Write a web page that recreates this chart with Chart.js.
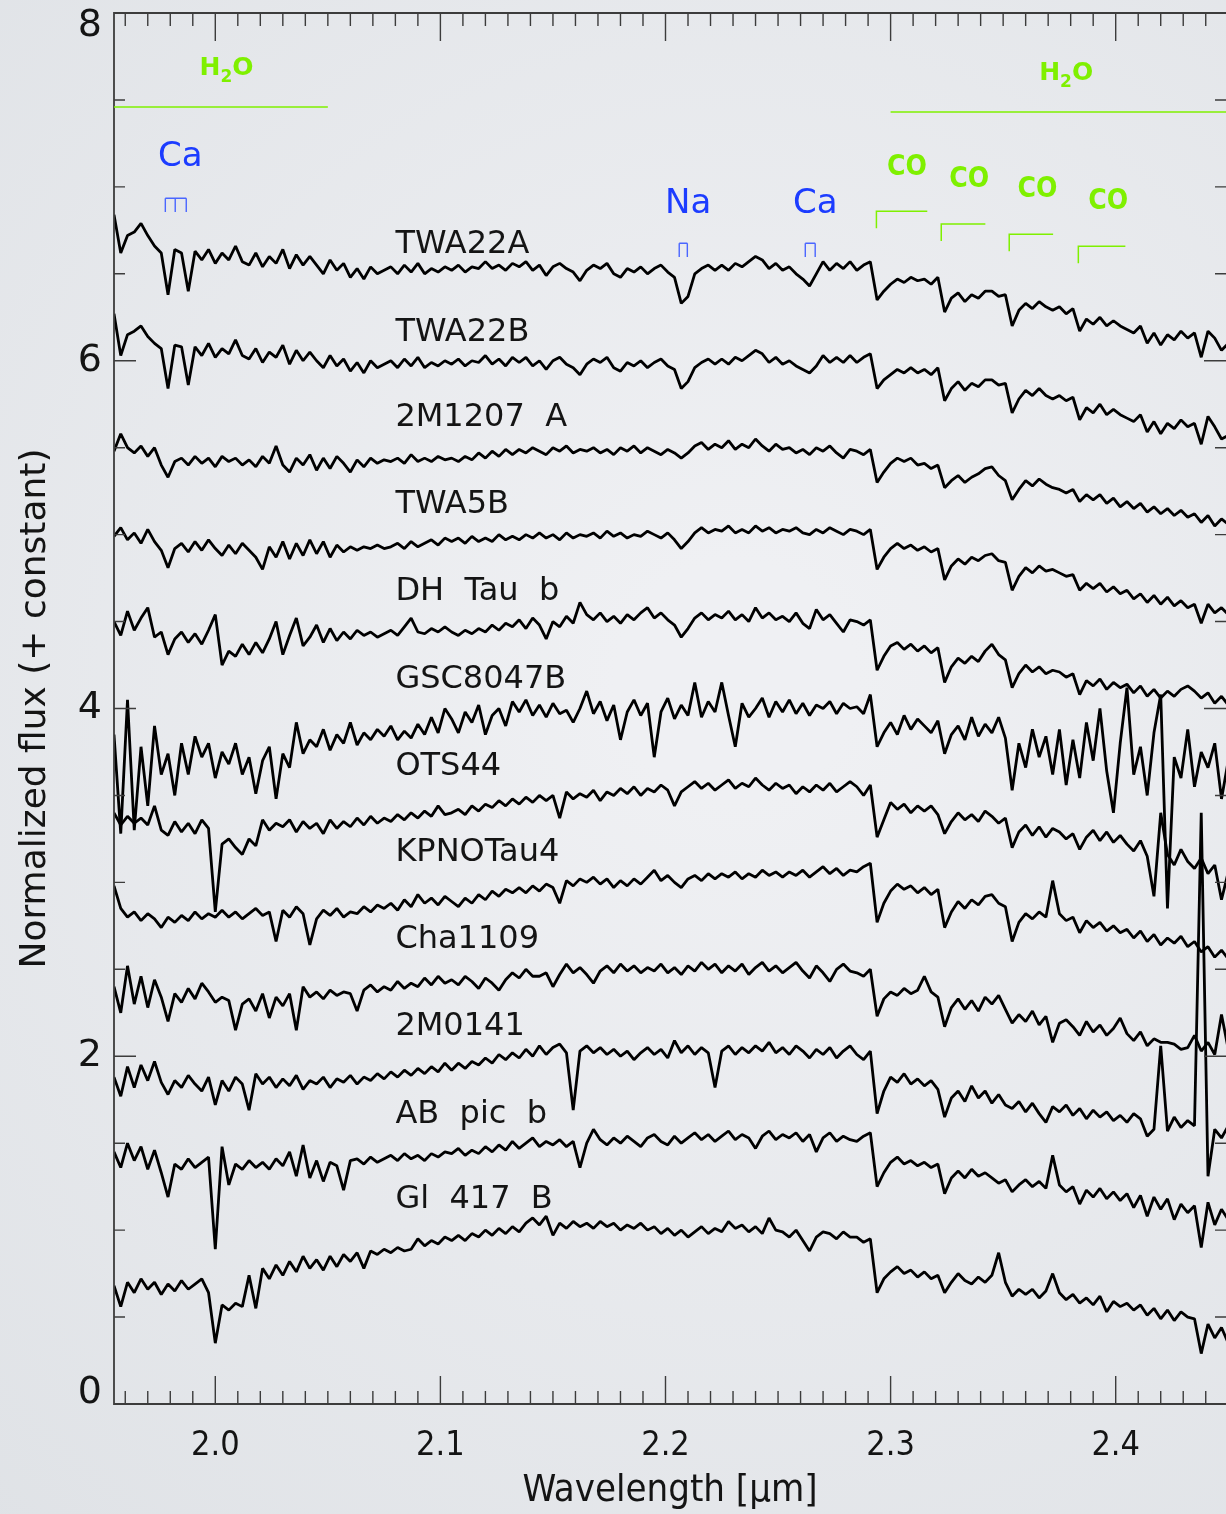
<!DOCTYPE html>
<html lang="en">
<head>
  <meta charset="UTF-8" />
  <title>K-band spectra of young low-mass objects</title>
  <script src="https://cdn.jsdelivr.net/npm/chart.js@4.4.0/dist/chart.umd.min.js"></script>
  <style>
    html, body {
      margin: 0;
      padding: 0;
      background: #e6e8eb;
    }

    #wrap {
      width: 1226px;
      height: 1514px;
    }
  </style>
</head>
<body>
  <div id="wrap"><canvas id="spectra" width="1226" height="1514"></canvas></div>

  <script>
    // wavelength grid of the spectra (micron)
    const waveStart = 1.955;
    const waveStep = 0.003;
    const nPoints = 166;
    const wave = [];
    for (let i = 0; i < nPoints; i++) wave.push(+(waveStart + i * waveStep).toFixed(3));

    // normalized flux + constant
    const twa22a = [
      6.84,6.62,6.72,6.74,6.79,6.72,6.66,6.62,6.38,6.64,
      6.62,6.40,6.63,6.58,6.64,6.56,6.62,6.58,6.66,6.57,
      6.55,6.62,6.54,6.60,6.56,6.64,6.53,6.61,6.55,6.60,
      6.55,6.50,6.58,6.52,6.56,6.48,6.53,6.47,6.54,6.50,
      6.52,6.54,6.50,6.55,6.51,6.56,6.50,6.53,6.51,6.54,
      6.52,6.55,6.51,6.54,6.53,6.57,6.53,6.55,6.52,6.56,
      6.54,6.57,6.52,6.55,6.49,6.54,6.56,6.53,6.51,6.46,
      6.52,6.55,6.53,6.56,6.50,6.48,6.53,6.51,6.54,6.50,
      6.53,6.55,6.51,6.48,6.33,6.37,6.50,6.53,6.55,6.52,
      6.55,6.52,6.56,6.54,6.57,6.60,6.58,6.53,6.56,6.52,
      6.54,6.50,6.47,6.43,6.50,6.57,6.52,6.56,6.53,6.57,
      6.52,6.55,6.57,6.35,6.40,6.44,6.47,6.45,6.48,6.46,
      6.47,6.44,6.48,6.28,6.36,6.39,6.34,6.38,6.36,6.40,
      6.40,6.37,6.38,6.20,6.29,6.33,6.30,6.34,6.31,6.29,
      6.31,6.27,6.30,6.17,6.24,6.21,6.25,6.20,6.23,6.20,
      6.18,6.16,6.20,6.10,6.16,6.09,6.15,6.12,6.17,6.13,
      6.16,6.02,6.17,6.13,6.06,6.10
    ];
    const twa22b = [
      6.27,6.03,6.15,6.17,6.20,6.14,6.10,6.07,5.84,6.09,
      6.08,5.86,6.08,6.03,6.10,6.02,6.07,6.04,6.12,6.03,
      6.01,6.07,5.99,6.05,6.02,6.09,5.98,6.06,6.00,6.05,
      6.00,5.96,6.03,5.97,6.01,5.94,5.99,5.93,6.00,5.96,
      5.98,6.00,5.96,6.01,5.97,6.02,5.96,5.99,5.97,6.00,
      5.98,6.01,5.97,6.00,5.99,6.03,5.98,6.01,5.97,6.02,
      5.99,6.02,5.97,6.00,5.95,6.00,6.02,5.98,5.96,5.92,
      5.98,6.01,5.99,6.02,5.96,5.94,5.99,5.97,6.00,5.96,
      5.99,6.01,5.97,5.95,5.84,5.88,5.96,5.99,6.01,5.98,
      6.01,5.98,6.02,6.00,6.03,6.06,6.04,5.99,6.02,5.98,
      6.00,5.97,5.95,5.93,5.97,6.03,5.99,6.02,5.99,6.03,
      5.99,6.02,6.04,5.84,5.89,5.92,5.95,5.93,5.96,5.93,
      5.95,5.92,5.96,5.77,5.84,5.88,5.83,5.87,5.85,5.89,
      5.89,5.86,5.87,5.70,5.78,5.83,5.80,5.84,5.80,5.78,
      5.80,5.77,5.79,5.66,5.73,5.70,5.75,5.69,5.72,5.69,
      5.67,5.65,5.69,5.59,5.65,5.58,5.64,5.61,5.66,5.62,
      5.64,5.52,5.68,5.62,5.55,5.57
    ];
    const m1207a = [
      5.48,5.58,5.50,5.47,5.51,5.45,5.50,5.40,5.33,5.42,
      5.44,5.40,5.45,5.41,5.44,5.39,5.45,5.42,5.44,5.40,
      5.43,5.39,5.45,5.41,5.51,5.40,5.36,5.44,5.40,5.46,
      5.37,5.44,5.38,5.45,5.41,5.36,5.43,5.39,5.44,5.41,
      5.43,5.42,5.44,5.41,5.46,5.42,5.44,5.42,5.45,5.43,
      5.44,5.42,5.45,5.43,5.47,5.44,5.48,5.45,5.49,5.46,
      5.49,5.47,5.50,5.48,5.46,5.50,5.48,5.51,5.47,5.49,
      5.48,5.50,5.47,5.49,5.46,5.50,5.48,5.51,5.47,5.50,
      5.48,5.46,5.49,5.47,5.44,5.47,5.51,5.53,5.49,5.52,
      5.50,5.54,5.49,5.52,5.50,5.55,5.51,5.48,5.52,5.49,
      5.50,5.47,5.49,5.46,5.50,5.48,5.51,5.47,5.44,5.49,
      5.48,5.46,5.49,5.30,5.36,5.41,5.44,5.42,5.44,5.40,
      5.41,5.38,5.40,5.27,5.31,5.34,5.30,5.33,5.35,5.38,
      5.39,5.34,5.31,5.20,5.26,5.31,5.28,5.32,5.29,5.27,
      5.26,5.24,5.26,5.19,5.23,5.20,5.23,5.18,5.21,5.16,
      5.19,5.15,5.18,5.13,5.16,5.12,5.15,5.11,5.14,5.10,
      5.12,5.07,5.11,5.05,5.09,5.06
    ];
    const twa5b = [
      4.99,5.04,4.97,5.01,4.95,5.03,4.96,4.91,4.81,4.92,
      4.95,4.90,4.96,4.91,4.97,4.92,4.88,4.94,4.89,4.95,
      4.91,4.87,4.80,4.93,4.87,4.96,4.86,4.95,4.88,4.97,
      4.89,4.96,4.87,4.94,4.90,4.93,4.91,4.93,4.92,4.94,
      4.92,4.93,4.95,4.92,4.96,4.93,4.95,4.97,4.94,4.98,
      4.96,4.98,4.95,4.99,4.96,4.98,4.96,5.00,4.97,4.99,
      4.97,5.00,4.98,5.01,4.98,5.00,4.97,5.01,4.98,5.00,
      4.99,5.01,4.98,5.02,4.99,5.01,4.98,5.00,4.99,5.02,
      5.00,4.98,5.01,4.97,4.92,4.96,5.01,5.04,5.01,5.03,
      5.02,5.05,5.01,5.03,5.01,5.05,5.02,5.04,5.01,5.03,
      5.02,5.04,5.01,5.00,5.03,5.01,5.04,5.02,5.00,5.03,
      5.02,5.00,5.03,4.80,4.87,4.92,4.95,4.92,4.94,4.91,
      4.93,4.90,4.92,4.74,4.82,4.86,4.83,4.87,4.85,4.88,
      4.89,4.85,4.84,4.68,4.76,4.81,4.78,4.82,4.79,4.80,
      4.78,4.76,4.77,4.68,4.72,4.69,4.72,4.67,4.70,4.66,
      4.68,4.63,4.66,4.61,4.65,4.60,4.64,4.59,4.62,4.58,
      4.60,4.49,4.60,4.55,4.58,4.54
    ];
    const dhTauB = [
      4.50,4.42,4.56,4.45,4.52,4.58,4.41,4.44,4.31,4.40,
      4.44,4.38,4.43,4.37,4.45,4.54,4.25,4.33,4.30,4.37,
      4.31,4.38,4.32,4.40,4.50,4.31,4.42,4.52,4.36,4.41,
      4.48,4.38,4.46,4.39,4.44,4.40,4.45,4.42,4.44,4.41,
      4.43,4.45,4.42,4.47,4.52,4.44,4.43,4.46,4.44,4.47,
      4.44,4.42,4.45,4.43,4.46,4.44,4.48,4.45,4.49,4.47,
      4.51,4.46,4.52,4.48,4.40,4.50,4.47,4.53,4.49,4.61,
      4.54,4.51,4.55,4.50,4.53,4.49,4.54,4.51,4.55,4.58,
      4.52,4.55,4.51,4.48,4.41,4.46,4.52,4.55,4.51,4.54,
      4.52,4.56,4.51,4.54,4.50,4.58,4.52,4.55,4.51,4.53,
      4.50,4.55,4.49,4.46,4.57,4.51,4.54,4.49,4.44,4.51,
      4.50,4.48,4.51,4.22,4.30,4.36,4.38,4.34,4.37,4.33,
      4.36,4.32,4.35,4.15,4.24,4.29,4.26,4.30,4.27,4.33,
      4.37,4.31,4.28,4.12,4.20,4.25,4.21,4.24,4.20,4.22,
      4.21,4.18,4.20,4.08,4.16,4.13,4.17,4.11,4.15,4.12,
      4.14,4.09,4.13,4.07,4.11,4.06,4.10,4.07,4.11,4.13,
      4.10,4.06,4.09,4.03,4.07,4.02
    ];
    const gsc8047b = [
      3.85,3.28,4.05,3.30,3.78,3.44,3.90,3.62,3.74,3.50,
      3.80,3.62,3.84,3.72,3.80,3.60,3.75,3.68,3.80,3.62,
      3.72,3.51,3.70,3.78,3.48,3.74,3.66,3.92,3.74,3.82,
      3.78,3.88,3.76,3.85,3.80,3.92,3.79,3.86,3.82,3.88,
      3.84,3.90,3.82,3.87,3.83,3.91,3.85,3.95,3.86,4.00,
      3.94,3.86,3.98,3.92,4.02,3.85,3.96,4.00,3.90,4.04,
      3.98,4.05,3.96,4.02,3.95,4.03,3.97,3.99,3.92,4.00,
      4.10,3.97,4.04,3.93,4.02,3.82,3.98,4.05,3.96,4.03,
      3.72,3.98,4.06,3.94,4.02,3.96,4.15,3.95,4.04,3.98,
      4.15,3.96,3.78,4.03,3.95,4.00,4.06,3.95,4.04,3.98,
      4.05,3.97,4.03,3.96,4.02,4.00,4.04,3.97,4.03,4.00,
      4.01,3.97,4.08,3.78,3.86,3.92,3.85,3.96,3.88,3.94,
      3.90,3.86,3.93,3.74,3.85,3.90,3.82,3.95,3.84,3.91,
      3.86,3.95,3.83,3.53,3.80,3.66,3.88,3.72,3.84,3.62,
      3.88,3.56,3.82,3.60,3.92,3.70,4.00,3.64,3.40,3.80,
      4.12,3.62,3.78,3.50,3.86,4.08,2.85,3.72,3.60,3.88,
      3.55,3.75,3.66,3.80,3.48,3.70
    ];
    const ots44 = [
      3.40,3.33,3.38,3.34,3.37,3.33,3.44,3.30,3.27,3.35,
      3.29,3.34,3.28,3.36,3.31,2.83,3.22,3.25,3.20,3.16,
      3.25,3.21,3.36,3.30,3.34,3.32,3.36,3.29,3.35,3.31,
      3.34,3.28,3.36,3.31,3.35,3.32,3.37,3.33,3.38,3.34,
      3.37,3.35,3.39,3.36,3.40,3.37,3.41,3.38,3.44,3.39,
      3.40,3.42,3.39,3.44,3.41,3.45,3.43,3.47,3.44,3.48,
      3.45,3.49,3.46,3.50,3.47,3.50,3.37,3.52,3.48,3.51,
      3.49,3.53,3.47,3.52,3.50,3.54,3.51,3.55,3.50,3.54,
      3.52,3.56,3.53,3.44,3.52,3.55,3.58,3.54,3.57,3.53,
      3.56,3.59,3.54,3.57,3.55,3.60,3.56,3.53,3.57,3.54,
      3.56,3.51,3.55,3.52,3.56,3.53,3.57,3.52,3.55,3.58,
      3.55,3.50,3.56,3.26,3.36,3.46,3.42,3.45,3.40,3.44,
      3.41,3.44,3.39,3.28,3.35,3.40,3.36,3.39,3.35,3.41,
      3.38,3.34,3.37,3.20,3.29,3.33,3.27,3.32,3.26,3.31,
      3.29,3.25,3.28,3.19,3.26,3.30,3.24,3.29,3.23,3.27,
      3.22,3.18,3.24,3.15,2.92,3.40,3.16,3.10,3.19,3.12,
      3.08,3.14,3.05,3.10,2.90,3.06
    ];
    const kpnoTau4 = [
      2.98,2.85,2.80,2.83,2.78,2.82,2.79,2.74,2.80,2.77,
      2.81,2.78,2.83,2.79,2.82,2.80,2.84,2.80,2.83,2.79,
      2.82,2.85,2.81,2.83,2.66,2.84,2.80,2.86,2.82,2.64,
      2.79,2.84,2.81,2.85,2.80,2.83,2.82,2.86,2.83,2.87,
      2.85,2.88,2.84,2.90,2.86,2.93,2.88,2.91,2.87,2.92,
      2.89,2.86,2.91,2.88,2.93,2.90,2.95,2.92,2.96,2.94,
      2.97,2.94,2.98,2.95,2.99,2.97,2.88,3.01,2.98,3.02,
      3.00,3.03,2.99,3.02,2.97,3.01,2.98,3.02,2.99,3.03,
      3.07,3.01,3.04,3.00,2.97,3.02,3.04,3.01,3.05,3.02,
      3.05,3.03,3.06,3.02,3.05,3.03,3.07,3.04,3.06,3.03,
      3.06,3.04,3.07,3.03,3.06,3.09,3.05,3.08,3.04,3.07,
      3.06,3.09,3.11,2.77,2.88,2.95,2.99,2.96,2.98,2.94,
      2.97,2.93,2.96,2.74,2.83,2.89,2.85,2.90,2.87,2.92,
      2.93,2.88,2.86,2.66,2.77,2.82,2.79,2.83,2.80,3.01,
      2.82,2.78,2.80,2.71,2.78,2.74,2.77,2.72,2.75,2.71,
      2.73,2.68,2.72,2.66,2.70,2.64,2.68,2.65,2.69,2.63,
      2.66,2.60,2.63,2.57,2.61,2.56
    ];
    const cha1109 = [
      2.40,2.25,2.52,2.30,2.46,2.28,2.44,2.34,2.20,2.36,
      2.31,2.39,2.33,2.42,2.37,2.31,2.34,2.32,2.15,2.30,
      2.33,2.26,2.36,2.22,2.34,2.29,2.36,2.15,2.40,2.34,
      2.37,2.33,2.38,2.35,2.37,2.36,2.26,2.38,2.41,2.37,
      2.40,2.38,2.43,2.39,2.42,2.40,2.45,2.41,2.46,2.42,
      2.44,2.41,2.46,2.43,2.39,2.45,2.42,2.38,2.44,2.48,
      2.45,2.50,2.46,2.46,2.48,2.40,2.47,2.53,2.48,2.51,
      2.47,2.42,2.49,2.52,2.48,2.53,2.49,2.52,2.48,2.51,
      2.49,2.53,2.48,2.51,2.47,2.52,2.49,2.54,2.50,2.53,
      2.48,2.52,2.49,2.53,2.47,2.51,2.54,2.49,2.52,2.48,
      2.51,2.54,2.49,2.45,2.52,2.48,2.43,2.50,2.53,2.49,
      2.48,2.46,2.50,2.23,2.33,2.37,2.35,2.39,2.36,2.38,
      2.46,2.37,2.34,2.17,2.28,2.33,2.27,2.32,2.26,2.34,
      2.30,2.35,2.27,2.19,2.24,2.20,2.26,2.18,2.23,2.08,
      2.19,2.21,2.17,2.12,2.20,2.14,2.18,2.12,2.16,2.22,
      2.13,2.09,2.14,2.06,2.10,2.08,2.08,2.07,2.04,2.05,
      2.12,2.03,2.08,2.01,2.24,2.04
    ];
    const m0141 = [
      1.88,1.77,1.94,1.82,1.95,1.86,1.97,1.85,1.78,1.86,
      1.82,1.89,1.84,1.80,1.88,1.72,1.86,1.80,1.88,1.84,
      1.69,1.90,1.84,1.88,1.82,1.87,1.83,1.89,1.81,1.86,
      1.84,1.88,1.82,1.87,1.85,1.89,1.84,1.88,1.86,1.90,
      1.87,1.91,1.88,1.92,1.89,1.93,1.90,1.94,1.91,1.96,
      1.92,1.96,1.93,1.97,1.95,1.99,1.96,2.01,1.98,2.02,
      1.99,2.04,2.00,2.06,2.01,2.05,2.07,2.02,1.69,2.03,
      2.06,2.02,2.05,2.01,2.04,2.00,2.03,1.98,2.02,2.05,
      2.01,2.04,1.99,2.09,2.02,2.06,2.01,2.05,2.02,1.82,
      2.03,2.06,2.01,2.05,2.02,2.06,2.03,2.08,2.02,2.05,
      2.01,2.06,2.03,1.99,2.04,2.01,2.05,1.99,2.03,2.06,
      2.01,1.98,2.03,1.67,1.80,1.88,1.85,1.90,1.84,1.87,
      1.83,1.86,1.81,1.65,1.76,1.80,1.74,1.83,1.76,1.80,
      1.73,1.78,1.72,1.70,1.74,1.68,1.73,1.67,1.62,1.71,
      1.68,1.72,1.66,1.70,1.64,1.69,1.65,1.68,1.63,1.66,
      1.62,1.67,1.64,1.54,1.58,2.06,1.57,1.65,1.59,1.63,
      1.60,3.40,1.31,1.58,1.53,1.60
    ];
    const abPicB = [
      1.45,1.36,1.50,1.40,1.48,1.35,1.46,1.33,1.19,1.38,
      1.35,1.41,1.36,1.39,1.42,0.89,1.48,1.26,1.38,1.35,
      1.40,1.36,1.39,1.35,1.41,1.37,1.45,1.31,1.49,1.30,
      1.40,1.28,1.39,1.37,1.23,1.40,1.41,1.38,1.42,1.39,
      1.41,1.43,1.40,1.44,1.41,1.43,1.40,1.44,1.42,1.45,
      1.44,1.47,1.43,1.46,1.44,1.48,1.45,1.49,1.46,1.51,
      1.47,1.50,1.53,1.48,1.51,1.49,1.52,1.48,1.51,1.36,
      1.50,1.58,1.52,1.49,1.53,1.50,1.54,1.51,1.48,1.53,
      1.55,1.51,1.49,1.54,1.50,1.53,1.56,1.52,1.55,1.51,
      1.54,1.57,1.52,1.55,1.53,1.47,1.54,1.57,1.52,1.55,
      1.53,1.56,1.51,1.55,1.45,1.53,1.56,1.51,1.54,1.52,
      1.51,1.54,1.56,1.25,1.33,1.39,1.42,1.38,1.40,1.37,
      1.39,1.36,1.38,1.21,1.30,1.34,1.30,1.35,1.31,1.33,
      1.30,1.27,1.29,1.22,1.26,1.29,1.25,1.28,1.24,1.43,
      1.26,1.22,1.25,1.15,1.23,1.19,1.24,1.18,1.22,1.17,
      1.21,1.13,1.20,1.08,1.19,1.12,1.18,1.06,1.15,1.10,
      1.14,0.90,1.16,1.03,1.12,1.06
    ];
    const gl417b = [
      0.68,0.56,0.70,0.64,0.72,0.66,0.70,0.63,0.69,0.65,
      0.71,0.66,0.69,0.72,0.64,0.35,0.57,0.54,0.58,0.56,
      0.74,0.55,0.78,0.72,0.80,0.74,0.82,0.76,0.85,0.78,
      0.83,0.77,0.85,0.79,0.86,0.82,0.87,0.78,0.88,0.86,
      0.89,0.87,0.90,0.88,0.89,0.95,0.91,0.94,0.92,0.96,
      0.94,0.97,0.94,0.98,0.96,1.00,0.97,1.01,0.98,1.02,
      0.99,1.04,1.07,1.03,1.08,0.97,1.04,1.01,1.05,1.02,
      1.04,1.01,1.05,1.02,1.04,1.00,1.03,1.01,1.04,1.00,
      1.02,0.98,1.01,0.97,1.00,0.96,0.99,1.02,0.98,1.01,
      0.99,1.05,1.01,1.03,0.99,1.02,0.98,1.07,1.00,0.99,
      0.96,1.00,0.94,0.88,0.96,0.99,0.98,0.95,0.99,0.96,
      0.96,0.93,0.95,0.64,0.72,0.76,0.79,0.75,0.77,0.73,
      0.76,0.72,0.74,0.64,0.70,0.75,0.71,0.69,0.73,0.70,
      0.74,0.87,0.70,0.62,0.66,0.63,0.66,0.61,0.65,0.75,
      0.64,0.60,0.63,0.58,0.61,0.57,0.62,0.53,0.59,0.56,
      0.58,0.54,0.57,0.51,0.55,0.49,0.54,0.48,0.53,0.50,
      0.49,0.29,0.46,0.38,0.44,0.35
    ];

    const spectra = [twa22a, twa22b, m1207a, twa5b, dhTauB, gsc8047b,
                     ots44, kpnoTau4, cha1109, m0141, abPicB, gl417b];
    const names = ['TWA22A', 'TWA22B', '2M1207  A', 'TWA5B', 'DH  Tau  b', 'GSC8047B',
                   'OTS44', 'KPNOTau4', 'Cha1109', '2M0141', 'AB  pic  b', 'Gl  417  B'];
    const nameX = 2.080;
    const nameY = [6.665, 6.164, 5.670, 5.170, 4.669, 4.163, 3.663, 3.168, 2.668, 2.168, 1.662, 1.173];

    // H2O bands (horizontal bars) and their labels
    const h2oFrom = [1.955, 2.300];
    const h2oTo = [2.050, 2.449];
    const h2oLevel = [7.46, 7.43];
    const h2oTextX = [2.005, 2.378];
    const h2oTextY = [7.642, 7.614];

    // CO bandheads
    const coHead = [2.2937, 2.3225, 2.3527, 2.3834];
    const coEnd = [2.3163, 2.3421, 2.3722, 2.4043];
    const coTop = [6.860, 6.786, 6.728, 6.659];
    const coTextX = [2.3073, 2.3349, 2.3652, 2.3967];
    const coTextY = [7.113, 7.039, 6.981, 6.912];

    // atomic lines: label, label position, line positions, tick top
    const atomName = ['Ca', 'Na', 'Ca'];
    const atomTextX = [1.9845, 2.2101, 2.2665];
    const atomTextY = [7.170, 6.900, 6.900];
    const atomLines = [[1.9778, 1.9822, 1.9871], [2.2061, 2.2097], [2.2621, 2.2665]];
    const atomTop = [6.935, 6.676, 6.676];

    const green = '#7ff000';
    const blue = '#1c3cff';
    const ink = '#141414';

    const backdrop = {
      id: 'backdrop',
      beforeDraw(chart) {
        const { ctx, width, height } = chart;
        const g = ctx.createRadialGradient(width * 0.6, height * 0.45, 120, width * 0.6, height * 0.45, 1150);
        g.addColorStop(0, '#eff0f3');
        g.addColorStop(1, '#dfe2e6');
        ctx.save();
        ctx.fillStyle = g;
        ctx.fillRect(0, 0, width, height);
        ctx.restore();
      }
    };

    // inward ticks on all four sides, like the IDL frame, plus the y labels
    const frame = {
      id: 'frame',
      afterDatasetsDraw(chart) {
        const { ctx, chartArea: a, scales: { x, y } } = chart;
        ctx.save();
        ctx.strokeStyle = '#3c3c3c';
        ctx.lineWidth = 1.8;
        ctx.beginPath();
        ctx.moveTo(a.right, a.top);
        ctx.lineTo(a.left, a.top);
        ctx.lineTo(a.left, a.bottom);
        ctx.lineTo(a.right, a.bottom);
        ctx.stroke();

        ctx.lineWidth = 1.4;
        ctx.beginPath();
        for (let k = 196; k <= 244; k++) {
          const px = x.getPixelForValue(k / 100);
          const len = k % 10 === 0 ? 28 : 13;
          ctx.moveTo(px, a.bottom);
          ctx.lineTo(px, a.bottom - len);
          ctx.moveTo(px, a.top);
          ctx.lineTo(px, a.top + len);
        }
        for (let k = 1; k < 16; k++) {
          const py = y.getPixelForValue(k / 2);
          const len = k % 4 === 0 ? 22 : 11;
          ctx.moveTo(a.left, py);
          ctx.lineTo(a.left + len, py);
          ctx.moveTo(a.right, py);
          ctx.lineTo(a.right - len, py);
        }
        ctx.stroke();

        // y tick labels, kept inside the picture at both ends
        ctx.fillStyle = ink;
        ctx.font = "38px 'DejaVu Sans'";
        ctx.textAlign = 'right';
        ctx.textBaseline = 'middle';
        y.ticks.forEach(t => {
          const py = Math.min(Math.max(y.getPixelForValue(t.value), a.top + 13), a.bottom - 11);
          ctx.fillText(String(t.value), a.left - 12, py);
        });
        ctx.restore();
      }
    };

    function drawH2O(ctx, cx, base) {
      const big = "bold 25px 'DejaVu Sans'";
      const small = "bold 17px 'DejaVu Sans'";
      ctx.font = big;
      const wH = ctx.measureText('H').width;
      const wO = ctx.measureText('O').width;
      ctx.font = small;
      const w2 = ctx.measureText('2').width;
      let px = cx - (wH + w2 + wO) / 2;
      ctx.textAlign = 'left';
      ctx.textBaseline = 'alphabetic';
      ctx.font = big;
      ctx.fillText('H', px, base);
      px += wH;
      ctx.font = small;
      ctx.fillText('2', px, base + 7);
      px += w2;
      ctx.font = big;
      ctx.fillText('O', px, base);
    }

    const annotate = {
      id: 'annotate',
      afterDatasetsDraw(chart) {
        const { ctx, scales: { x, y } } = chart;
        const X = v => x.getPixelForValue(v);
        const Y = v => y.getPixelForValue(v);
        ctx.save();

        // object names
        ctx.fillStyle = ink;
        ctx.font = "32px 'DejaVu Sans'";
        ctx.textAlign = 'left';
        ctx.textBaseline = 'middle';
        names.forEach((n, k) => ctx.fillText(n, X(nameX), Y(nameY[k])));

        // H2O
        ctx.strokeStyle = green;
        ctx.fillStyle = green;
        ctx.lineWidth = 1.5;
        h2oFrom.forEach((from, k) => {
          ctx.beginPath();
          ctx.moveTo(X(from), Y(h2oLevel[k]));
          ctx.lineTo(X(h2oTo[k]), Y(h2oLevel[k]));
          ctx.stroke();
          drawH2O(ctx, X(h2oTextX[k]), Y(h2oTextY[k]));
        });

        // CO
        ctx.font = "bold 28px 'DejaVu Sans Condensed', 'DejaVu Sans'";
        ctx.textAlign = 'center';
        ctx.textBaseline = 'middle';
        coHead.forEach((head, k) => {
          ctx.beginPath();
          ctx.moveTo(X(head), Y(coTop[k] - 0.098));
          ctx.lineTo(X(head), Y(coTop[k]));
          ctx.lineTo(X(coEnd[k]), Y(coTop[k]));
          ctx.stroke();
          ctx.fillText('CO', X(coTextX[k]), Y(coTextY[k]));
        });

        // Ca, Na
        ctx.font = "34px 'DejaVu Sans'";
        atomName.forEach((n, k) => {
          ctx.fillStyle = blue;
          ctx.fillText(n, X(atomTextX[k]), Y(atomTextY[k]));
          const lines = atomLines[k];
          const top = Y(atomTop[k]);
          const bot = Y(atomTop[k] - 0.08);
          ctx.strokeStyle = '#4a66ff';
          ctx.lineWidth = 1.4;
          ctx.beginPath();
          ctx.moveTo(X(lines[0]), top);
          ctx.lineTo(X(lines[lines.length - 1]), top);
          lines.forEach(l => {
            ctx.moveTo(X(l), top);
            ctx.lineTo(X(l), bot);
          });
          ctx.stroke();
        });

        ctx.restore();
      }
    };

    const tickFont = { family: "'DejaVu Sans Condensed', 'DejaVu Sans'", size: 34 };

    new Chart(document.getElementById('spectra'), {
      type: 'line',
      data: {
        datasets: spectra.map((flux, k) => ({
          label: names[k],
          data: wave.map((w, i) => ({ x: w, y: flux[i] })),
          borderColor: '#000',
          borderWidth: 2.8,
          borderJoinStyle: 'bevel',
          pointRadius: 0,
          tension: 0,
          fill: false
        }))
      },
      options: {
        responsive: false,
        animation: false,
        devicePixelRatio: 1,
        layout: { padding: { top: 13, right: 0, bottom: 0, left: 0 } },
        plugins: {
          legend: { display: false },
          tooltip: { enabled: false }
        },
        scales: {
          x: {
            type: 'linear',
            min: 1.955,
            max: 2.449,
            afterFit(s) {
              s.height = 110;
              s.paddingLeft = 0;
              s.paddingRight = 0;
            },
            grid: { display: false, drawTicks: false },
            border: { display: false },
            ticks: {
              stepSize: 0.1,
              includeBounds: false,
              autoSkip: false,
              maxRotation: 0,
              padding: 22,
              color: ink,
              font: tickFont,
              callback: v => v.toFixed(1)
            },
            title: {
              display: true,
              text: 'Wavelength [μm]',
              color: ink,
              font: { family: "'DejaVu Sans Condensed', 'DejaVu Sans'", size: 38 },
              padding: { top: 0, bottom: 0 }
            }
          },
          y: {
            min: 0,
            max: 8,
            afterFit(s) {
              s.width = 114;
              s.paddingTop = 0;
              s.paddingBottom = 0;
            },
            grid: { display: false, drawTicks: false },
            border: { display: false },
            ticks: { stepSize: 2, display: false },
            title: {
              display: true,
              text: 'Normalized flux (+ constant)',
              color: ink,
              font: { family: "'DejaVu Sans'", size: 36 },
              padding: { top: 14, bottom: 0 }
            }
          }
        }
      },
      plugins: [backdrop, frame, annotate]
    });
  </script>
</body>
</html>
